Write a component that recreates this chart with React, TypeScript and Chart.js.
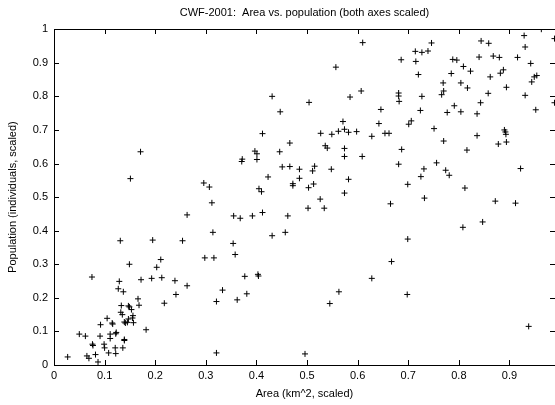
import React, { useEffect, useRef } from "react";
import { Chart, registerables } from "chart.js";

Chart.register(...registerables);

const chartTitle = "CWF-2001:  Area vs. population (both axes scaled)";
const xTitle = "Area (km^2, scaled)";
const yTitle = "Population (individuals, scaled)";

const xTicks = [0, 0.1, 0.2, 0.3, 0.4, 0.5, 0.6, 0.7, 0.8, 0.9];
const yTicks = [0, 0.1, 0.2, 0.3, 0.4, 0.5, 0.6, 0.7, 0.8, 0.9, 1];
const xMin = 0;
const xMax = 0.99;
const yMin = 0;
const yMax = 1;

const area = [
  0.171, 0.151, 0.372, 0.371, 0.296, 0.307, 0.312, 0.263, 0.355, 0.368,
  0.314, 0.397, 0.401, 0.446, 0.536, 0.540, 0.574, 0.401, 0.451, 0.466,
  0.485, 0.515, 0.511, 0.548, 0.423, 0.582, 0.472, 0.472, 0.485, 0.513,
  0.503, 0.405, 0.410, 0.574, 0.526, 0.534, 0.502, 0.392, 0.412, 0.462,
  0.431, 0.457, 0.195, 0.254, 0.354, 0.358, 0.211, 0.298, 0.316, 0.203,
  0.193, 0.213, 0.239, 0.263, 0.241, 0.218, 0.377, 0.403, 0.404, 0.333,
  0.381, 0.362, 0.321, 0.563, 0.545, 0.321, 0.496, 0.610, 0.557, 0.686,
  0.431, 0.504, 0.607, 0.585, 0.681, 0.681, 0.682, 0.447, 0.646, 0.571,
  0.642, 0.412, 0.574, 0.562, 0.582, 0.598, 0.527, 0.549, 0.628, 0.654,
  0.662, 0.466, 0.574, 0.609, 0.687, 0.681, 0.746, 0.714, 0.727, 0.739,
  0.715, 0.788, 0.796, 0.840, 0.809, 0.823, 0.720, 0.785, 0.769, 0.804,
  0.817, 0.770, 0.766, 0.727, 0.791, 0.777, 0.804, 0.724, 0.836, 0.706,
  0.701, 0.751, 0.836, 0.770, 0.816, 0.756, 0.731, 0.774, 0.781, 0.725,
  0.699, 0.812, 0.732, 0.963, 0.989, 0.929, 0.844, 0.859, 0.931, 0.868,
  0.880, 0.916, 0.942, 0.882, 0.888, 0.862, 0.949, 0.954, 0.944, 0.894,
  0.858, 0.931, 0.989, 0.843, 0.952, 0.890, 0.892, 0.893, 0.878, 0.894,
  0.922, 0.872, 0.912, 0.847, 0.938, 0.665, 0.808, 0.699, 0.667, 0.628,
  0.698, 0.131, 0.149, 0.075, 0.129, 0.127, 0.137, 0.172, 0.166, 0.168,
  0.133, 0.147, 0.149, 0.153, 0.132, 0.135, 0.156, 0.155, 0.139, 0.141,
  0.145, 0.157, 0.115, 0.116, 0.092, 0.105, 0.182, 0.123, 0.122, 0.139,
  0.139, 0.111, 0.111, 0.091, 0.050, 0.062, 0.076, 0.077, 0.099, 0.100,
  0.121, 0.136, 0.108, 0.122, 0.027, 0.065, 0.069, 0.082, 0.087, 0.147,
];

const population = [
  0.635, 0.555, 0.613, 0.606, 0.542, 0.530, 0.483, 0.447, 0.444, 0.437,
  0.395, 0.637, 0.629, 0.635, 0.653, 0.646, 0.621, 0.612, 0.590, 0.591,
  0.583, 0.592, 0.578, 0.583, 0.560, 0.553, 0.540, 0.534, 0.556, 0.539,
  0.528, 0.525, 0.516, 0.512, 0.494, 0.467, 0.467, 0.444, 0.454, 0.444,
  0.385, 0.395, 0.372, 0.370, 0.362, 0.329, 0.314, 0.319, 0.319, 0.291,
  0.258, 0.260, 0.251, 0.236, 0.210, 0.184, 0.264, 0.270, 0.265, 0.223,
  0.212, 0.194, 0.189, 0.218, 0.183, 0.036, 0.033, 0.960, 0.887, 0.909,
  0.800, 0.782, 0.816, 0.798, 0.810, 0.801, 0.785, 0.754, 0.761, 0.725,
  0.719, 0.689, 0.702, 0.696, 0.693, 0.695, 0.690, 0.687, 0.681, 0.690,
  0.690, 0.661, 0.645, 0.621, 0.642, 0.598, 0.959, 0.934, 0.931, 0.935,
  0.904, 0.910, 0.908, 0.917, 0.889, 0.875, 0.865, 0.868, 0.840, 0.840,
  0.825, 0.816, 0.805, 0.800, 0.772, 0.752, 0.754, 0.758, 0.748, 0.727,
  0.717, 0.704, 0.683, 0.667, 0.640, 0.602, 0.584, 0.580, 0.565, 0.561,
  0.538, 0.527, 0.497, 1.000, 0.972, 0.981, 0.965, 0.958, 0.947, 0.920,
  0.916, 0.916, 0.898, 0.869, 0.879, 0.858, 0.858, 0.862, 0.843, 0.827,
  0.809, 0.803, 0.781, 0.781, 0.760, 0.700, 0.694, 0.687, 0.658, 0.664,
  0.585, 0.488, 0.482, 0.426, 0.115, 0.480, 0.410, 0.375, 0.308, 0.258,
  0.210, 0.370, 0.300, 0.262, 0.249, 0.227, 0.218, 0.254, 0.197, 0.178,
  0.177, 0.176, 0.173, 0.165, 0.157, 0.150, 0.147, 0.140, 0.128, 0.125,
  0.127, 0.126, 0.125, 0.122, 0.120, 0.139, 0.105, 0.097, 0.093, 0.076,
  0.073, 0.092, 0.079, 0.086, 0.092, 0.086, 0.062, 0.058, 0.062, 0.051,
  0.051, 0.051, 0.036, 0.034, 0.024, 0.027, 0.020, 0.031, 0.009, 0.137,
];

const FONT = "'Liberation Sans', Arial, Helvetica, sans-serif";
const TEXT_COLOR = "#000";
const TICK_LEN = 5;

const fmt = (v: number) => String(Math.round(v * 10) / 10);

const frameTicksPlugin = {
  id: "frameTicks",
  afterDraw(chart: any) {
    const { ctx, chartArea } = chart;
    const { left, right, top, bottom } = chartArea;
    const xs = chart.scales.x;
    const ys = chart.scales.y;
    const L = Math.round(left);
    const R = Math.round(right);
    const T = Math.round(top);
    const B = Math.round(bottom);
    ctx.save();
    ctx.strokeStyle = "#000";
    ctx.lineWidth = 1;
    ctx.beginPath();
    ctx.rect(L + 0.5, T + 0.5, R - L, B - T);
    ctx.stroke();
    ctx.beginPath();
    xTicks.forEach((v) => {
      const px = Math.round(xs.getPixelForValue(v)) + 0.5;
      ctx.moveTo(px, B);
      ctx.lineTo(px, B - TICK_LEN);
      ctx.moveTo(px, T);
      ctx.lineTo(px, T + TICK_LEN);
    });
    yTicks.forEach((v) => {
      const py = Math.round(ys.getPixelForValue(v)) + 0.5;
      ctx.moveTo(L, py);
      ctx.lineTo(L + TICK_LEN, py);
      ctx.moveTo(R, py);
      ctx.lineTo(R - TICK_LEN, py);
    });
    ctx.stroke();
    ctx.restore();
  },
};

export default function App() {
  const canvasRef = useRef<HTMLCanvasElement | null>(null);

  useEffect(() => {
    const canvas = canvasRef.current;
    if (!canvas) return;
    const points = area.map((x, i) => ({ x, y: population[i] }));
    const chart = new Chart(canvas, {
      type: "scatter",
      data: {
        datasets: [
          {
            label: "CWF-2001",
            data: points,
            pointStyle: "cross",
            pointRadius: 3,
            pointHoverRadius: 3,
            borderColor: "#000",
            backgroundColor: "#000",
            pointBorderWidth: 1,
            borderWidth: 1,
          },
        ],
      },
      options: {
        responsive: false,
        animation: false,
        devicePixelRatio: 1,
        layout: { padding: 0, autoPadding: false },
        events: [],
        plugins: {
          legend: { display: false },
          tooltip: { enabled: false },
          title: {
            display: true,
            text: chartTitle,
            fullSize: false,
            color: TEXT_COLOR,
            font: { family: FONT, size: 11, weight: "normal", lineHeight: 1.2 },
            padding: { top: 6, bottom: 10 },
          },
        },
        scales: {
          x: {
            type: "linear",
            min: xMin,
            max: xMax,
            grid: { display: false, drawTicks: false },
            border: { display: false },
            afterBuildTicks: (scale: any) => {
              scale.ticks = xTicks.map((v) => ({ value: v }));
            },
            afterFit: (scale: any) => {
              scale.height = 40;
              scale.paddingLeft = 0;
              scale.paddingRight = 0;
            },
            ticks: {
              color: TEXT_COLOR,
              font: { family: FONT, size: 11 },
              padding: 4,
              maxRotation: 0,
              autoSkip: false,
              callback: (v: any) => fmt(Number(v)),
            },
            title: {
              display: true,
              text: xTitle,
              color: TEXT_COLOR,
              font: { family: FONT, size: 11, lineHeight: 1.2 },
              padding: { top: 0, bottom: 4 },
            },
          },
          y: {
            type: "linear",
            min: yMin,
            max: yMax,
            grid: { display: false, drawTicks: false },
            border: { display: false },
            afterBuildTicks: (scale: any) => {
              scale.ticks = yTicks.map((v) => ({ value: v }));
            },
            afterFit: (scale: any) => {
              scale.width = 54;
              scale.paddingTop = 0;
              scale.paddingBottom = 0;
            },
            ticks: {
              color: TEXT_COLOR,
              font: { family: FONT, size: 11 },
              padding: 6,
              autoSkip: false,
              callback: (v: any) => fmt(Number(v)),
            },
            title: {
              display: true,
              text: yTitle,
              color: TEXT_COLOR,
              font: { family: FONT, size: 11, lineHeight: 1.2 },
              padding: { top: 6, bottom: 0 },
            },
          },
        },
      },
      plugins: [frameTicksPlugin],
    });
    return () => chart.destroy();
  }, []);

  return (
    <div
      style={{
        position: "fixed",
        left: 0,
        top: 0,
        width: 555,
        height: 405,
        background: "#fff",
      }}
    >
      <canvas ref={canvasRef} width={555} height={405} style={{ display: "block" }} />
    </div>
  );
}
